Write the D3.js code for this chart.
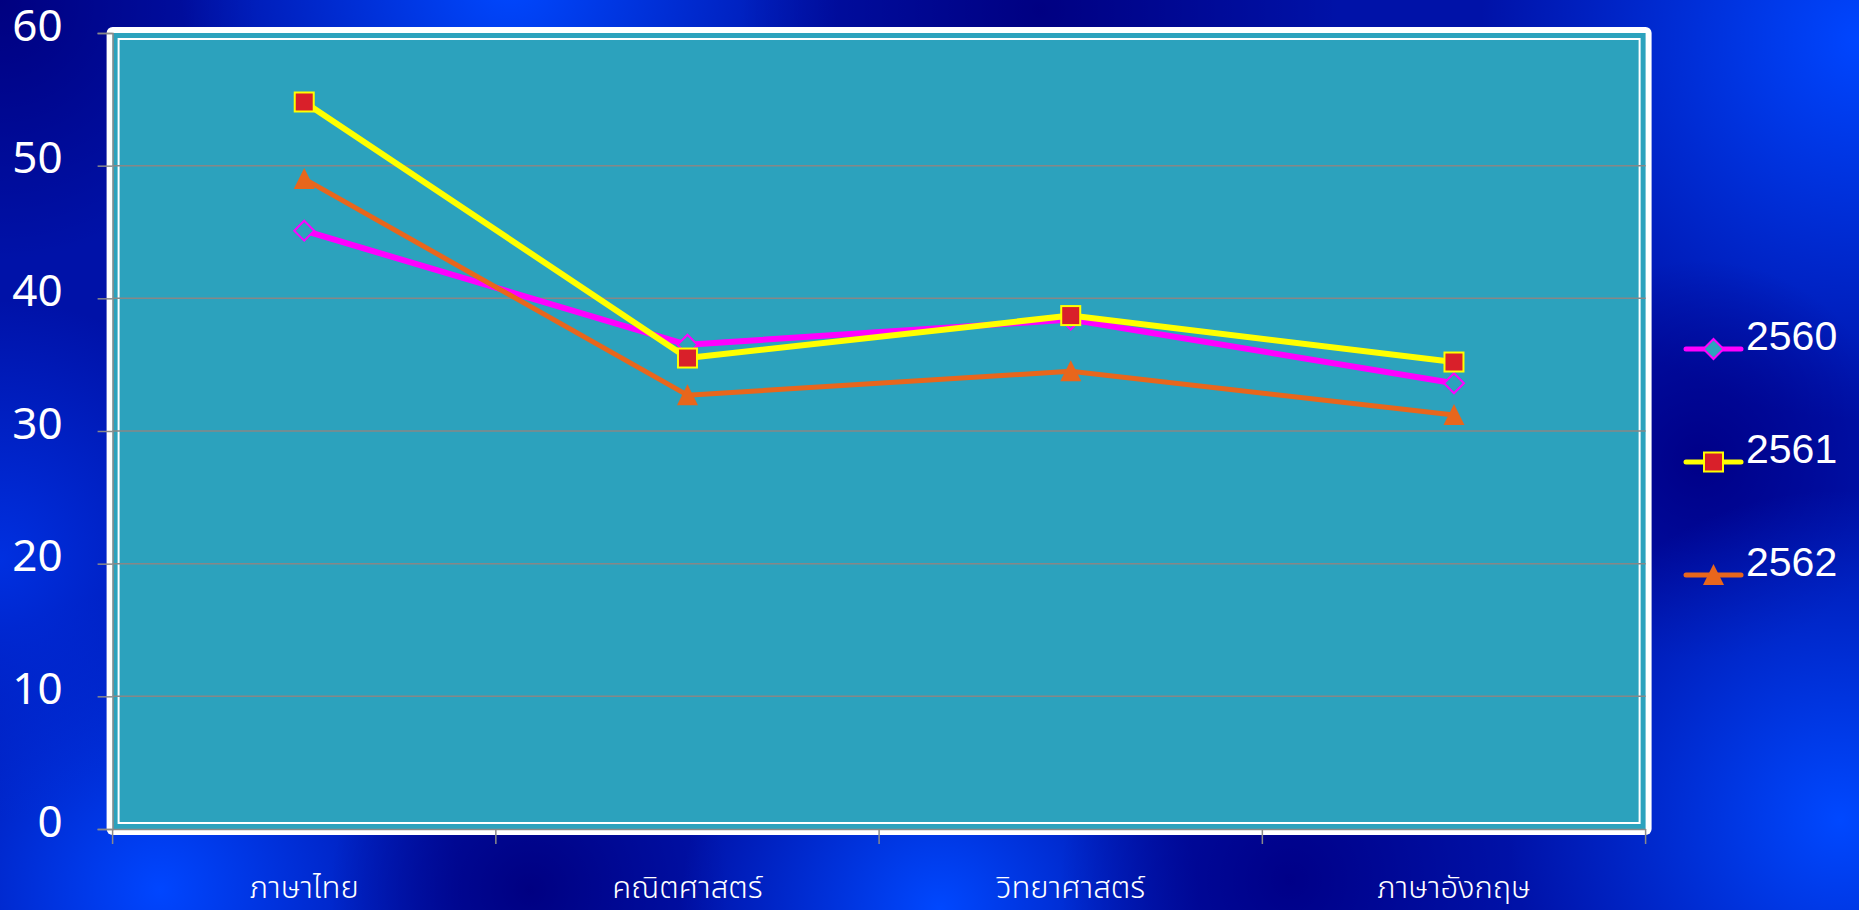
<!DOCTYPE html>
<html><head><meta charset="utf-8">
<script src="https://cdn.jsdelivr.net/npm/d3@7"></script>
<style>html,body{margin:0;padding:0;overflow:hidden;background:#000a90}</style>
</head><body>
<svg id="chart" width="1859" height="910"></svg>
<script>
const categories = ["ภาษาไทย", "คณิตศาสตร์", "วิทยาศาสตร์", "ภาษาอังกฤษ"];
const seriesNames = ["2560", "2561", "2562"];
const values2560 = [45.1, 36.5, 38.4, 33.6];
const values2561 = [54.8, 35.5, 38.7, 35.2];
const values2562 = [49.0, 32.7, 34.5, 31.2];
const yTicks = [0, 10, 20, 30, 40, 50, 60];

const series = [
  {name: seriesNames[0], values: values2560, color: "#ff00ff", marker: "diamond", width: 6},
  {name: seriesNames[1], values: values2561, color: "#ffff00", marker: "square", width: 6},
  {name: seriesNames[2], values: values2562, color: "#e8661c", marker: "triangle", width: 5}
];

const W = 1859, H = 910;
const svg = d3.select("#chart");
const defs = svg.append("defs");

// background
svg.append("rect").attr("width", W).attr("height", H).attr("fill", "#0012a8");
const blobs = [
  {cx: 0, cy: 0, r: 260, c: "#000080"},
  {cx: 510, cy: -20, r: 330, c: "#0048ff"},
  {cx: 1040, cy: 10, r: 300, c: "#000082"},
  {cx: 1860, cy: 40, r: 380, c: "#0046ff"},
  {cx: 1700, cy: 460, r: 200, c: "#000088"},
  {cx: 1840, cy: 820, r: 330, c: "#0048ff"},
  {cx: 160, cy: 890, r: 300, c: "#0046ff"},
  {cx: 530, cy: 890, r: 200, c: "#000082"},
  {cx: 940, cy: 910, r: 260, c: "#0048ff"},
  {cx: 1290, cy: 880, r: 230, c: "#000088"},
  {cx: 0, cy: 560, r: 260, c: "#0030e0"}
];
blobs.forEach((b, i) => {
  const g = defs.append("radialGradient").attr("id", "bg" + i);
  g.append("stop").attr("offset", "0%").attr("stop-color", b.c).attr("stop-opacity", 1);
  g.append("stop").attr("offset", "100%").attr("stop-color", b.c).attr("stop-opacity", 0);
  svg.append("circle").attr("cx", b.cx).attr("cy", b.cy).attr("r", b.r).attr("fill", `url(#bg${i})`);
});

const x = d3.scaleBand().domain(categories).range([112.6, 1645.6]);
const y = d3.scaleLinear().domain([0, 60]).range([829, 33]);
const [x0, x1] = x.range();
const [yb, yt] = y.range();

// plot frame
svg.append("rect").attr("x", x0 - 6).attr("y", yt - 6).attr("width", x1 - x0 + 12).attr("height", yb - yt + 12)
  .attr("rx", 6).attr("fill", "#ffffff");
svg.append("rect").attr("x", x0).attr("y", yt).attr("width", x1 - x0).attr("height", yb - yt).attr("fill", "#2ca2bd");
svg.append("rect").attr("x", x0 + 6).attr("y", yt + 6).attr("width", x1 - x0 - 12).attr("height", yb - yt - 12)
  .attr("fill", "none").attr("stroke", "#ffffff").attr("stroke-width", 2);

// gridlines
svg.append("g").selectAll("line").data(yTicks.filter(v => v > 0 && v < 60)).join("line")
  .attr("x1", x0).attr("x2", x1).attr("y1", d => y(d)).attr("y2", d => y(d))
  .attr("stroke", "#878787").attr("stroke-width", 1.5);

// y axis
const yAxis = svg.append("g").attr("transform", `translate(${x0},0)`)
  .call(d3.axisLeft(y).tickValues(yTicks).tickSize(15).tickPadding(35));
yAxis.select(".domain").attr("stroke", "#8a8a8a").attr("stroke-width", 1.5);
yAxis.selectAll(".tick line").attr("stroke", "#8a8a8a").attr("stroke-width", 1.5);
yAxis.selectAll(".tick text").attr("fill", "#ffffff").attr("font-family", "'Noto Sans', sans-serif")
  .attr("font-size", 44).attr("dy", "0.16em");

// x axis
const xAxis = svg.append("g").attr("transform", `translate(0,${yb})`)
  .call(d3.axisBottom(x).tickSize(0).tickPadding(47));
xAxis.select(".domain").attr("stroke", "#8a8a8a").attr("stroke-width", 1.5);
xAxis.selectAll(".tick text").attr("fill", "#ffffff")
  .attr("font-family", "'Noto Sans Thai', 'Loma', 'Garuda', 'Norasi', 'DejaVu Sans', sans-serif")
  .attr("font-size", 31).attr("font-weight", 300);
const bounds = categories.map(c => x(c)).concat([x1]);
xAxis.append("g").selectAll("line").data(bounds).join("line")
  .attr("x1", d => d).attr("x2", d => d).attr("y1", 0).attr("y2", 15)
  .attr("stroke", "#8a8a8a").attr("stroke-width", 1.5);

// marker drawing
function drawMarker(sel, type, cx, cy, color) {
  if (type === "diamond") {
    sel.append("path").attr("d", `M${cx},${cy-10}L${cx+10},${cy}L${cx},${cy+10}L${cx-10},${cy}Z`)
      .attr("fill", "#2ca2bd").attr("stroke", "#ff00ff").attr("stroke-width", 2);
  } else if (type === "square") {
    sel.append("rect").attr("x", cx - 9.5).attr("y", cy - 9.5).attr("width", 19).attr("height", 19)
      .attr("fill", "#d9202a").attr("stroke", "#ffff00").attr("stroke-width", 2);
  } else {
    sel.append("path").attr("d", `M${cx},${cy-11}L${cx+10.5},${cy+10}L${cx-10.5},${cy+10}Z`)
      .attr("fill", "#e8661c");
  }
}

const line = d3.line().x((d, i) => x(categories[i]) + x.bandwidth() / 2).y(d => y(d));
series.forEach(s => {
  const g = svg.append("g");
  g.append("path").attr("d", line(s.values)).attr("fill", "none").attr("stroke", s.color)
    .attr("stroke-width", s.width).attr("stroke-linejoin", "round");
  s.values.forEach((v, i) => drawMarker(g, s.marker, x(categories[i]) + x.bandwidth() / 2, y(v), s.color));
});

// legend
const legendY = d3.scalePoint().domain(seriesNames).range([349, 575]);
const lg = svg.append("g");
series.forEach(s => {
  const ly = legendY(s.name);
  lg.append("line").attr("x1", 1686).attr("x2", 1741).attr("y1", ly).attr("y2", ly)
    .attr("stroke", s.color).attr("stroke-width", 5).attr("stroke-linecap", "round");
  drawMarker(lg, s.marker, 1713.5, ly, s.color);
  lg.append("text").attr("x", 1746).attr("y", ly + 1).text(s.name)
    .attr("fill", "#ffffff").attr("font-family", "'Liberation Sans', Arial, sans-serif").attr("font-size", 41);
});
</script>
</body></html>
